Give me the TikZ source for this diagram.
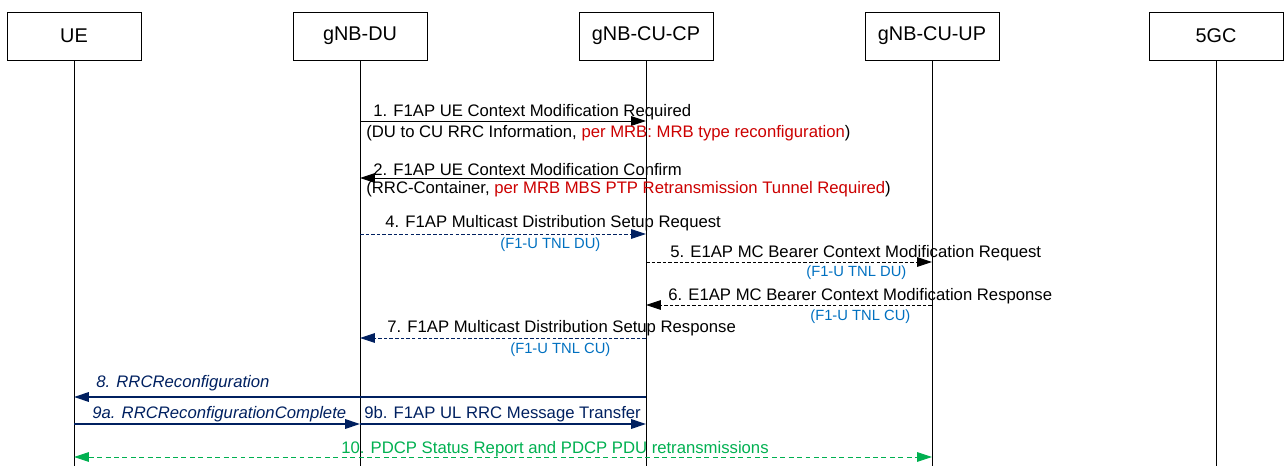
\documentclass[tikz,border=0pt]{standalone}
\usepackage{fontspec}
\setmainfont{Liberation Sans}
\usetikzlibrary{arrows.meta,positioning}
\definecolor{msgred}{RGB}{204,0,0}
\definecolor{tnlblue}{RGB}{0,112,192}
\definecolor{navy}{RGB}{0,32,96}
\definecolor{pdcpgreen}{RGB}{0,176,80}
\begin{document}
\begin{tikzpicture}[x=0.02cm,y=-0.02cm,
    entity/.style={draw,line width=0.5pt,minimum width=2.68cm,minimum height=0.96cm,font=\fontsize{11.3}{13}\selectfont},
    msg/.style={line width=0.5pt,-{Triangle[length=8.5pt,width=5.5pt]}},
    fine/.style={dash pattern=on 2pt off 1.2pt},
    txt/.style={anchor=base west,inner sep=0pt,font=\fontsize{9.5}{11}\selectfont},
    tnl/.style={anchor=base west,inner sep=0pt,text=tnlblue,font=\fontsize{8.4}{10}\selectfont}]
    \useasboundingbox (0,0) rectangle (1286,466);
    \foreach \n/\x/\l in {ue/74/UE, du/360/gNB-DU, cp/646/gNB-CU-CP, up/932/gNB-CU-UP, cn/1216/5GC} {
        \node[entity] (\n) at (\x,36) {\l};
        \coordinate (\n-end) at (\x,466);
        \draw[line width=0.5pt] (\n) -- (\n-end);
    }
    \foreach \m/\y in {m1/121, m2/178, m4/234, m5/262, m6/305, m7/338, m8/397, m9/424, m10/457} {
        \coordinate (\m) at (0,\y);
    }
    \draw[msg] (du |- m1) -- (cp |- m1);
    \node[txt] (t1) at (373,117) {1. F1AP UE Context Modification Required};
    \node[txt] (t1b) at (366,138) {(DU to CU RRC Information, \textcolor{msgred}{per MRB: MRB type reconfiguration})};
    \draw[msg] (cp |- m2) -- (du |- m2);
    \node[txt] (t2) at (373,175) {2. F1AP UE Context Modification Confirm};
    \node[txt] (t2b) at (366,194) {(RRC-Container, \textcolor{msgred}{per MRB MBS PTP Retransmission Tunnel Required})};
    \draw[msg,fine,navy] (du |- m4) -- (cp |- m4);
    \node[txt] (t4) at (385,228) {4. F1AP Multicast Distribution Setup Request};
    \node[tnl] (t4b) at (500,249) {(F1-U TNL DU)};
    \draw[msg,fine] (cp |- m5) -- (up |- m5);
    \node[txt] (t5) at (670,257) {5. E1AP MC Bearer Context Modification Request};
    \node[tnl] (t5b) at (806,276) {(F1-U TNL DU)};
    \draw[msg,fine] (up |- m6) -- (cp |- m6);
    \node[txt] (t6) at (668,300) {6. E1AP MC Bearer Context Modification Response};
    \node[tnl] (t6b) at (810,320) {(F1-U TNL CU)};
    \draw[msg,fine,navy] (cp |- m7) -- (du |- m7);
    \node[txt] (t7) at (387,333) {7. F1AP Multicast Distribution Setup Response};
    \node[tnl] (t7b) at (510,353) {(F1-U TNL CU)};
    \draw[msg,navy,line width=0.65pt] (cp |- m8) -- (ue |- m8);
    \node[txt,text=navy] (t8) at (96,387) {\itshape 8. RRCReconfiguration};
    \draw[msg,navy,line width=0.65pt] (ue |- m9) -- (du |- m9);
    \node[txt,text=navy] (t9a) at (92,418) {\itshape 9a. RRCReconfigurationComplete};
    \draw[msg,navy,line width=0.65pt] (du |- m9) -- (cp |- m9);
    \node[txt,text=navy] (t9b) at (364,418) {9b. F1AP UL RRC Message Transfer};
    \draw[msg,pdcpgreen,{Triangle[length=8.5pt,width=5.5pt]}-{Triangle[length=8.5pt,width=5.5pt]},dash pattern=on 2.8pt off 2pt] (ue |- m10) -- (up |- m10);
    \node[txt,text=pdcpgreen] (t10) at (341,453) {10. PDCP Status Report and PDCP PDU retransmissions};
\end{tikzpicture}
\end{document}
